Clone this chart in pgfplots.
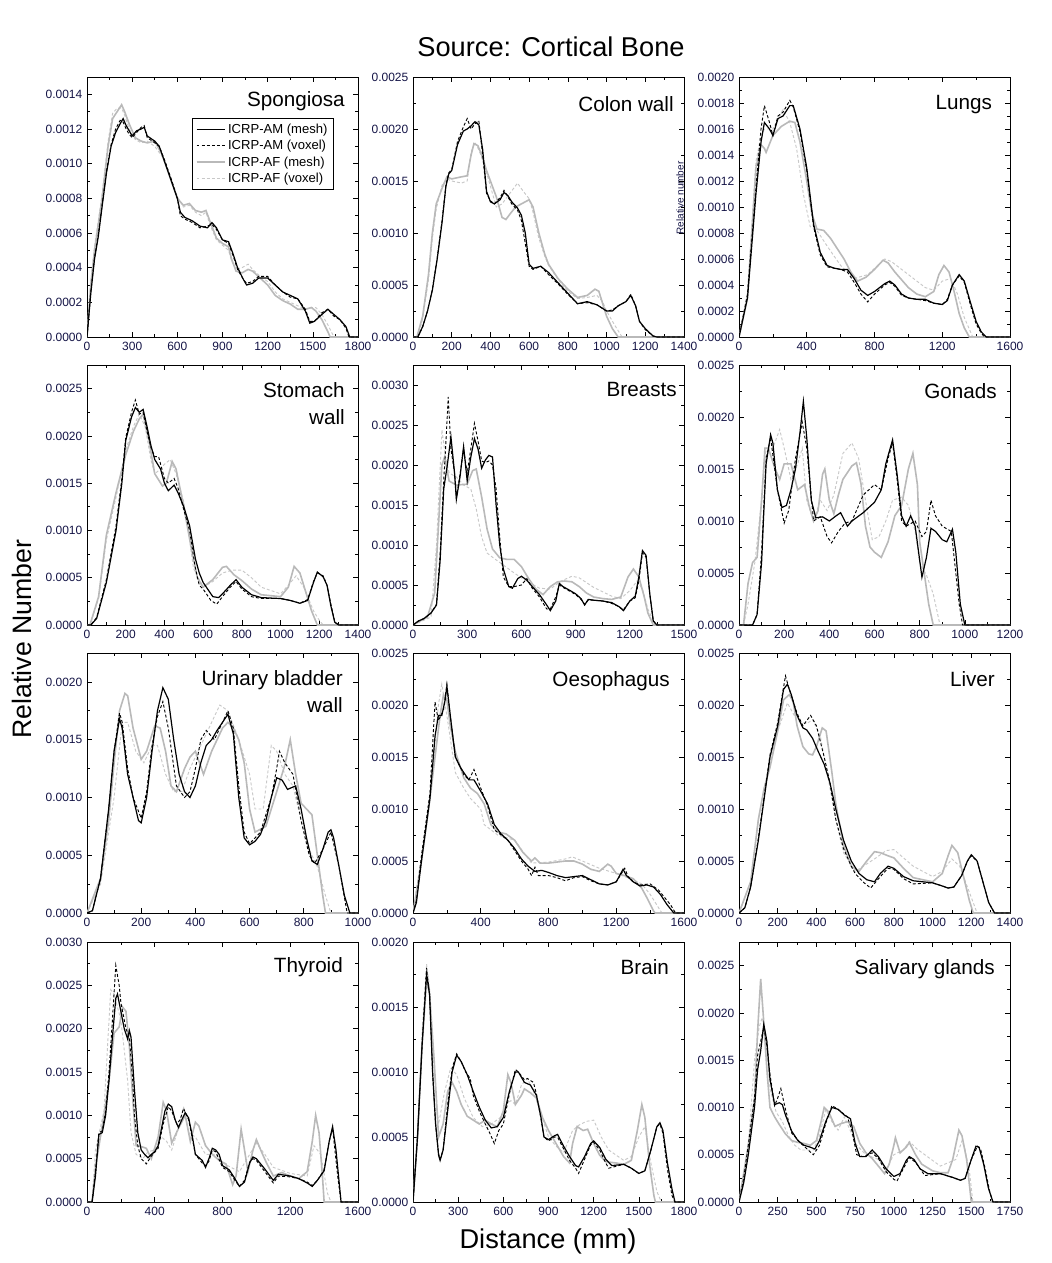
\documentclass[border=0pt]{standalone}
\usepackage{fontspec}
\setmainfont{Liberation Sans}
\usepackage{pgfplots}
\pgfplotsset{compat=1.18}
\definecolor{afmc}{RGB}{185,185,185}
\definecolor{afvc}{RGB}{200,200,200}
\definecolor{tickc}{RGB}{20,20,70}
\tikzset{
  amm/.style={black, line width=0.9pt},
  amv/.style={black, line width=0.7pt, dash pattern=on 2.2pt off 1.6pt},
  afm/.style={afmc, line width=1.2pt},
  afv/.style={afvc, line width=0.7pt, dash pattern=on 2.2pt off 1.6pt},
  ttl/.style={anchor=north east, align=right, inner sep=0pt, font=\fontsize{15.5}{20.25}\selectfont},
}
\pgfplotsset{
  pan/.style={
    scale only axis, width=203.25pt, height=195pt,
    xmin=0, ymin=0, minor tick num=1, tick align=inside,
    major tick length=3.8pt, minor tick length=2.2pt,
    axis line style={line width=0.6pt},
    every tick/.style={black, line width=0.5pt},
    ticklabel style={font=\fontsize{9}{10}\selectfont, text=tickc},
    scaled ticks=false,
    xticklabel style={/pgf/number format/1000 sep={}},
    /pgf/number format/assume math mode=true,
    yticklabel={\pgfmathparse{\tick/10000}\pgfmathprintnumber[fixed,fixed zerofill,precision=4,assume math mode=true]{\pgfmathresult}},
    clip=true,
  },
}
\begin{document}
\begin{tikzpicture}
\path[use as bounding box] (0pt,0pt) rectangle (788.25pt,-947.25pt);
\node[font=\fontsize{20.4}{24}\selectfont] at (413.25pt,-35.25pt) {Source: Cortical Bone};
\node[font=\fontsize{20}{24}\selectfont, rotate=90] at (16.5pt,-479.25pt) {Relative Number};
\node[font=\fontsize{20.4}{24}\selectfont] at (411pt,-930.75pt) {Distance (mm)};

% ---------------- Panel 1: Spongiosa
\begin{axis}[pan, at={(65.25pt,-252.75pt)}, anchor=south west,
  xmax=1800, xtick={0,300,...,1800}, ymax=15, ytick={0,2,...,14},
  reverse legend, legend cell align=left,
  legend style={at={(0.911,0.842)}, anchor=north east, draw=black, line width=0.5pt,
    font=\fontsize{9.8}{11}\selectfont, inner xsep=2.5pt, inner ysep=2pt, row sep=-0.3pt},
  legend image code/.code={\draw[#1] (0cm,0cm) -- (0.74cm,0cm);}]
\addplot[afv] coordinates {(0,0)(25,3.2)(50,5.2)(100,8.2)(140,11.3)(170,12.9)(200,13.2)(230,13.2)(250,12.8)(280,12.0)(320,11.4)(360,11.2)(400,11.3)(450,11.0)(500,10.4)(560,9.1)(600,8.1)(640,7.5)(680,7.6)(720,7.2)(760,7.0)(790,7.2)(820,6.4)(860,5.6)(900,5.3)(940,5.0)(960,4.4)(990,3.9)(1030,4.0)(1070,4.2)(1100,3.9)(1150,3.5)(1200,3.2)(1250,2.6)(1300,2.2)(1350,2.0)(1400,1.8)(1450,1.6)(1490,1.7)(1520,1.7)(1560,1.3)(1600,0.7)(1640,0)(1800,0)};
\addlegendentry{ICRP-AF (voxel)}
\addplot[afm] coordinates {(0,0)(25,3)(50,5)(100,8)(140,11)(170,12.6)(200,13.0)(230,13.4)(250,13.0)(280,12.3)(320,11.5)(360,11.3)(400,11.2)(450,11.3)(500,10.5)(560,9.0)(600,8.0)(640,7.6)(680,7.7)(720,7.3)(760,7.2)(790,7.3)(820,6.6)(860,5.7)(900,5.4)(940,5.2)(960,4.5)(990,3.8)(1030,3.7)(1070,3.9)(1100,3.8)(1150,3.4)(1200,3.0)(1250,2.4)(1300,2.1)(1350,1.9)(1400,1.6)(1450,1.6)(1490,1.7)(1520,1.5)(1560,1.0)(1600,0.3)(1615,0)(1800,0)};
\addlegendentry{ICRP-AF (mesh)}
\addplot[amv] coordinates {(0,0)(25,2.6)(50,4.6)(75,5.9)(100,7.6)(130,9.6)(160,11.1)(190,12)(220,12.5)(240,12.4)(260,12.0)(280,11.7)(300,11.5)(330,11.8)(360,12.1)(380,12.2)(400,11.5)(450,11.2)(480,11.0)(520,10.1)(560,9.1)(600,8.0)(620,7.0)(650,6.8)(700,6.6)(750,6.3)(800,6.4)(830,6.5)(860,6.2)(900,5.6)(940,5.4)(970,4.7)(1000,3.9)(1040,3.3)(1060,3.1)(1100,3.2)(1140,3.5)(1200,3.5)(1250,3.0)(1300,2.6)(1350,2.3)(1400,2.2)(1450,1.6)(1480,0.9)(1510,0.9)(1560,1.4)(1600,1.6)(1640,1.2)(1680,1.0)(1720,0.5)(1740,0)(1800,0)};
\addlegendentry{ICRP-AM (voxel)}
\addplot[amm] coordinates {(0,0)(25,2.5)(50,4.5)(75,5.8)(100,7.5)(130,9.5)(160,11)(190,11.8)(220,12.3)(240,12.6)(260,12.2)(280,11.9)(300,11.6)(330,11.9)(360,12)(380,12.1)(400,11.6)(450,11.3)(480,11.0)(520,10.0)(560,9.0)(600,8.0)(620,7.2)(650,6.9)(700,6.7)(750,6.4)(800,6.3)(830,6.6)(860,6.3)(900,5.6)(940,5.5)(970,4.8)(1000,4.0)(1040,3.3)(1060,3.0)(1100,3.1)(1140,3.4)(1200,3.4)(1250,3.0)(1300,2.6)(1350,2.4)(1400,2.2)(1450,1.5)(1480,0.8)(1510,0.9)(1560,1.3)(1600,1.6)(1640,1.3)(1680,1.0)(1720,0.6)(1745,0)(1800,0)};
\addlegendentry{ICRP-AM (mesh)}
\node[ttl] at (rel axis cs:0.952,0.946) {Spongiosa};
\end{axis}

% ---------------- Panel 2: Colon wall
\begin{axis}[pan, at={(309.75pt,-252.75pt)}, anchor=south west,
  xmax=1400, xtick={0,200,...,1400}, ymax=25, ytick={0,5,...,25}]
\addplot[afv] coordinates {(0,0)(25,0)(50,1.8)(80,5.5)(100,9.5)(120,12.3)(150,14.6)(175,15.2)(200,15.0)(250,14.8)(280,15.0)(300,17.8)(320,18.7)(340,18.0)(360,17.0)(380,15.8)(400,14.5)(430,12.5)(460,12.8)(500,13.8)(540,14.8)(570,14.0)(600,13.3)(620,12.0)(650,9.5)(680,7.8)(700,6.9)(750,5.5)(800,4.4)(850,3.7)(900,3.8)(950,4.0)(980,3.4)(1000,2.5)(1040,1.2)(1080,0)(1400,0)};
\addplot[afm] coordinates {(0,0)(20,0)(50,2)(80,6)(100,10)(120,12.8)(150,14.3)(175,15.4)(200,15.2)(250,15.4)(280,15.5)(300,17.5)(315,18.6)(335,18.4)(355,17.5)(380,16)(400,15)(430,13.5)(460,11.5)(480,11.3)(500,11.8)(530,12.5)(560,12.8)(600,13.2)(620,12.5)(650,10)(680,8)(700,7)(750,5.6)(800,4.6)(850,3.8)(900,4.0)(940,4.6)(960,4.4)(980,3.2)(1000,2)(1030,0.8)(1060,0)(1400,0)};
\addplot[amv] coordinates {(0,0)(25,0)(50,1.0)(75,2.5)(100,4.6)(125,7.6)(150,11.2)(170,14.6)(185,15.8)(200,16.1)(230,18.8)(260,20.2)(280,21.0)(300,20.0)(320,20.5)(340,20.8)(360,17.5)(380,13.8)(400,13.1)(420,12.8)(450,13.4)(470,14.1)(490,13.5)(510,12.8)(540,12.2)(560,11.2)(580,9.0)(600,6.8)(620,6.5)(660,6.8)(700,6.0)(750,5.1)(800,4.1)(850,3.2)(900,3.3)(950,3.1)(1000,2.5)(1030,2.6)(1060,3.0)(1100,3.4)(1125,4.1)(1150,3.0)(1170,1.5)(1200,0.7)(1240,0.1)(1260,0)(1400,0)};
\addplot[amm] coordinates {(0,0)(25,0)(50,1.0)(75,2.5)(100,4.5)(125,7.5)(150,11)(170,14.5)(185,15.7)(200,16)(230,18.5)(260,19.8)(280,20.0)(300,20.3)(320,20.7)(340,20.4)(360,18)(380,14)(400,13)(420,12.8)(450,13.2)(470,13.9)(490,13.6)(510,13)(540,12.4)(560,11.7)(580,10)(600,7)(620,6.6)(660,6.8)(700,6.2)(750,5.2)(800,4.2)(850,3.2)(900,3.4)(950,3.1)(1000,2.5)(1030,2.5)(1060,3.0)(1100,3.4)(1125,4.0)(1150,3.0)(1170,1.5)(1200,0.8)(1240,0.1)(1260,0)(1400,0)};
\node[ttl] at (rel axis cs:0.963,0.925) {Colon wall};
\end{axis}
\node[rotate=90, font=\fontsize{7.5}{8}\selectfont, text=tickc] at (510pt,-148.5pt) {Relative number};

% ---------------- Panel 3: Lungs
\begin{axis}[pan, at={(554.25pt,-252.75pt)}, anchor=south west,
  xmax=1600, xtick={0,400,...,1600}, ymax=20, ytick={0,2,...,20}]
\addplot[afv] coordinates {(0,0)(50,3.2)(100,13.5)(130,15.5)(150,16)(200,16)(260,17.5)(300,16.5)(340,14.5)(380,11)(420,8.5)(460,8.2)(520,7)(600,5.5)(680,4.5)(760,4.8)(860,6.0)(900,5.8)(1000,4.8)(1100,3.8)(1150,3.6)(1200,4.3)(1250,4.5)(1290,3.3)(1330,1.5)(1380,0)(1600,0)};
\addplot[afm] coordinates {(0,0)(50,3)(100,13)(130,14.8)(150,14.5)(160,14.2)(200,15.5)(250,16.2)(300,16.6)(330,16.5)(360,15)(400,12)(430,9.5)(460,8.3)(500,8.2)(540,7.6)(580,6.8)(620,6.0)(660,5.0)(700,4.3)(750,4.6)(800,5.2)(850,5.9)(880,5.7)(920,5.0)(960,4.4)(1000,3.8)(1050,3.3)(1100,3.1)(1150,3.5)(1180,4.8)(1210,5.5)(1240,5.0)(1270,3.5)(1300,1.8)(1330,0.7)(1360,0)(1600,0)};
\addplot[amv] coordinates {(0,0)(50,3.3)(100,11.5)(130,16)(150,17.8)(180,16.5)(200,15.5)(230,17)(260,17.3)(300,18.2)(320,17.7)(360,15.8)(400,12.8)(440,8.5)(480,6.3)(520,5.4)(560,5.3)(600,5.2)(640,5.0)(680,4.2)(720,3.3)(760,2.7)(800,3.3)(860,4.0)(890,4.2)(920,3.9)(960,3.2)(1000,3.0)(1050,2.9)(1100,2.8)(1150,2.6)(1200,2.5)(1230,2.9)(1260,4)(1300,4.7)(1330,4.2)(1370,2.3)(1400,1.0)(1430,0.3)(1450,0)(1600,0)};
\addplot[amm] coordinates {(0,0)(50,3)(100,11)(130,15)(150,16.5)(180,16)(200,15.5)(230,16.8)(260,17.0)(300,17.8)(320,17.8)(360,16)(400,13)(440,8.7)(480,6.5)(520,5.5)(560,5.3)(600,5.2)(640,5.2)(680,4.5)(720,3.6)(760,3.2)(800,3.5)(860,4.1)(890,4.3)(920,4.0)(960,3.3)(1000,3.0)(1050,2.9)(1100,2.9)(1150,2.6)(1200,2.5)(1230,2.8)(1260,4)(1300,4.8)(1330,4.3)(1370,2.5)(1400,1.2)(1430,0.4)(1460,0)(1600,0)};
\node[ttl] at (rel axis cs:0.934,0.93) {Lungs};
\end{axis}

% ---------------- Panel 4: Stomach wall
\begin{axis}[pan, at={(65.25pt,-468.75pt)}, anchor=south west,
  xmax=1400, xtick={0,200,...,1400}, ymax=27.5, ytick={0,5,...,25}]
\addplot[afv] coordinates {(0,0)(15,0)(60,2.8)(100,9)(150,13.5)(200,18.5)(240,21)(270,22.3)(300,21)(330,17.5)(350,16)(380,16.5)(400,17)(430,17.5)(460,16)(500,13)(530,9)(550,6)(600,4)(650,4.6)(700,5.5)(750,5.8)(800,5.8)(850,5.0)(900,4.0)(1000,3.3)(1040,4.2)(1080,5.2)(1120,4.0)(1170,1.5)(1200,0.5)(1220,0)(1400,0)};
\addplot[afm] coordinates {(0,0)(15,0)(60,3)(100,9.5)(150,14)(200,18)(240,20.5)(270,21.8)(290,22.3)(320,19.5)(350,16)(390,14.7)(410,15)(440,17.3)(460,16.5)(500,12.5)(540,8)(570,5)(600,4.0)(650,4.8)(700,6.1)(720,6.2)(760,5.3)(800,4.7)(850,3.8)(900,3.2)(1000,3.0)(1040,4.0)(1070,6.2)(1100,5.5)(1130,3.5)(1160,1.5)(1190,0)(1400,0)};
\addplot[amv] coordinates {(0,0)(20,0)(50,0.8)(100,4.8)(150,10.5)(180,15.5)(200,19.8)(230,22.5)(250,23.8)(270,22.3)(290,22.5)(310,20.5)(330,18.8)(350,17.8)(370,17.8)(400,15.5)(420,15)(450,15.5)(470,14.5)(500,12.2)(530,10)(560,6)(580,4.2)(600,3.8)(640,2.6)(670,2.2)(700,3.0)(740,4.0)(770,4.6)(800,3.8)(850,3.0)(900,2.8)(1000,2.8)(1050,2.6)(1100,2.3)(1140,2.7)(1170,4.6)(1190,5.5)(1220,5.2)(1240,4.2)(1260,2.2)(1280,0.3)(1300,0)(1400,0)};
\addplot[amm] coordinates {(0,0)(20,0)(50,0.7)(100,4.5)(150,10)(180,15)(200,19.5)(230,22)(250,23)(270,22.5)(290,22.8)(310,21)(330,19)(350,17.5)(380,16.5)(400,15)(420,14.2)(450,14.8)(470,14.0)(500,12.5)(530,10.5)(560,7)(580,5.5)(600,4.5)(650,3)(680,2.9)(700,3.3)(740,4.2)(770,4.8)(800,4.0)(850,3.2)(900,2.9)(1000,2.8)(1050,2.6)(1100,2.3)(1140,2.6)(1170,4.5)(1190,5.6)(1220,5.1)(1240,4.2)(1260,2.0)(1280,0.3)(1300,0)(1400,0)};
\node[ttl] at (rel axis cs:0.952,0.935) {Stomach\\wall};
\end{axis}

% ---------------- Panel 5: Breasts
\begin{axis}[pan, at={(309.75pt,-468.75pt)}, anchor=south west,
  xmax=1500, xtick={0,300,...,1500}, ymax=32.5, ytick={0,5,...,30}]
\addplot[afv] coordinates {(0,0)(100,1)(130,10)(160,24.4)(180,21)(200,19)(240,18.5)(280,17.5)(320,17)(350,14.5)(380,11)(410,9)(450,8.3)(500,7.5)(560,6.5)(620,5.6)(700,4.6)(760,4.5)(820,5.5)(880,6.1)(920,5.9)(1000,4.7)(1100,3.6)(1150,3.3)(1200,4.3)(1240,5.5)(1270,4.5)(1300,2)(1340,0)(1500,0)};
\addplot[afm] coordinates {(0,0)(80,1)(120,4)(140,12)(160,20)(175,21)(200,18)(240,17.5)(300,17.6)(330,19.3)(350,19.5)(380,16)(410,12)(440,9.5)(480,8.4)(520,8.2)(560,8.2)(600,7.3)(640,5.8)(680,4.5)(720,3.8)(760,4.8)(800,5.4)(840,5.5)(880,5.4)(920,4.8)(960,4.0)(1000,3.5)(1050,3.3)(1100,3.2)(1150,3.5)(1190,6)(1220,7)(1250,6)(1280,3.5)(1300,1.5)(1330,0)(1500,0)};
\addplot[amv] coordinates {(0,0)(30,0.5)(60,0.8)(100,1.5)(130,2.6)(150,9)(170,18)(185,24)(195,28.5)(210,22)(230,19)(240,16)(260,18.8)(280,22)(300,19)(320,22)(340,25.2)(360,23)(380,20.5)(400,20.3)(420,20.5)(440,20)(460,17)(480,11)(500,6)(530,4.8)(560,4.8)(600,5)(630,5.8)(660,4.6)(700,3.5)(740,2)(760,2)(790,3.5)(810,5)(830,4.7)(870,4.2)(900,3.8)(930,3.2)(950,2.6)(970,3.1)(1000,3.1)(1050,3.0)(1100,2.7)(1140,2.3)(1165,1.9)(1200,3.0)(1230,3.4)(1250,5.5)(1270,9.0)(1290,8.5)(1310,4)(1330,0.5)(1350,0)(1500,0)};
\addplot[amm] coordinates {(0,0)(30,0.5)(60,0.8)(100,1.5)(130,2.5)(150,8)(170,17)(190,20)(210,23.5)(230,19)(240,15.7)(260,18.5)(280,22.3)(300,18)(320,21)(340,23.3)(360,22)(380,19.6)(400,20.6)(420,21.2)(440,21)(460,15)(480,10)(500,7)(530,4.8)(550,4.6)(580,5.8)(600,6.1)(630,5.6)(660,4.8)(700,3.8)(740,2.5)(760,1.8)(790,3)(810,5.2)(830,4.8)(870,4.3)(900,3.9)(930,3.3)(950,2.5)(970,3.2)(1000,3.1)(1050,3.0)(1100,2.8)(1140,2.3)(1165,1.8)(1200,3.0)(1230,3.6)(1250,6)(1270,9.3)(1290,8.7)(1310,4)(1330,0.5)(1350,0)(1500,0)};
\node[ttl] at (rel axis cs:0.974,0.935) {Breasts};
\end{axis}

% ---------------- Panel 6: Gonads
\begin{axis}[pan, at={(554.25pt,-468.75pt)}, anchor=south west,
  xmax=1200, xtick={0,200,...,1200}, ymax=25, ytick={0,5,...,25}]
\addplot[afv] coordinates {(0,0)(20,0)(40,2)(70,6)(100,12)(120,17)(150,17)(180,18.8)(200,17)(230,14)(260,15.5)(280,17)(300,12)(330,10)(360,12)(390,11)(420,12.5)(460,16.5)(500,17.5)(530,16)(560,12)(590,8.2)(620,8.5)(650,10)(680,12)(720,12.3)(750,11.5)(780,9)(800,6)(830,4.8)(860,3)(890,0)(1200,0)};
\addplot[afm] coordinates {(0,0)(20,0)(40,4)(60,6)(80,6.5)(100,12)(115,17)(130,17)(160,15)(180,14)(200,15.5)(230,15.5)(260,13)(290,13.5)(310,11.5)(330,10)(350,11)(370,14.5)(380,15)(400,12)(420,10.7)(440,12.5)(460,14)(500,15.3)(520,15.6)(540,13.6)(560,9.5)(580,7.5)(600,7.0)(630,6.5)(660,8)(690,10.5)(720,11.5)(750,15)(770,16.5)(790,13.5)(800,8)(820,5)(840,2)(860,0)(1200,0)};
\addplot[amv] coordinates {(0,0)(60,0)(80,1)(100,7)(120,16)(140,18)(170,13)(200,9.8)(220,11)(250,16)(280,19.5)(300,17)(330,10)(360,10.4)(390,8.5)(410,7.9)(440,9)(470,9.8)(500,10)(550,12.5)(600,13.5)(630,13)(660,16)(680,17.5)(700,14)(720,10)(740,9.5)(780,10)(810,8.5)(830,9)(850,12)(870,10.5)(900,9.5)(940,9)(960,5)(975,2)(990,0)(1200,0)};
\addplot[amm] coordinates {(0,0)(60,0)(80,1)(100,6)(110,11)(120,15.5)(140,18.3)(150,17.5)(170,13)(190,11.3)(210,11.5)(230,13)(250,15)(270,18.5)(285,21.5)(300,18)(320,12)(340,10.3)(370,10.4)(400,10.0)(430,10.5)(450,10.8)(480,9.5)(500,10)(550,10.8)(600,11.8)(630,13)(650,15.5)(680,17.8)(700,14.5)(720,10.5)(740,9.5)(760,10.5)(780,9.5)(810,4.6)(830,6.5)(850,9.3)(870,9.0)(900,8.2)(920,8.0)(945,9.2)(960,7)(980,2)(1000,0)(1200,0)};
\node[ttl] at (rel axis cs:0.952,0.93) {Gonads};
\end{axis}

% ---------------- Panel 7: Urinary bladder wall
\begin{axis}[pan, at={(65.25pt,-684.75pt)}, anchor=south west,
  xmax=1000, xtick={0,200,...,1000}, ymax=22.5, ytick={0,5,...,20}]
\addplot[afv] coordinates {(0,0)(50,2.5)(100,10)(130,16.5)(150,16.5)(180,14)(210,13)(240,14.5)(260,14.5)(290,12)(320,10.5)(350,10.5)(380,12.5)(410,14)(450,16)(490,18)(520,17.5)(560,15)(600,12)(620,9)(650,9)(680,14.5)(700,14)(730,12)(760,11)(790,8)(820,5.5)(850,4)(880,1.5)(900,0)(1000,0)};
\addplot[afm] coordinates {(0,0)(50,3)(80,8)(100,13)(120,17.5)(140,19)(150,18.8)(170,16)(200,13.3)(220,14)(250,16.2)(270,16)(290,14)(310,11)(330,10.5)(360,12.5)(380,13.5)(400,14)(430,12)(460,14)(500,16)(520,16.5)(540,16)(560,15)(580,13)(600,9)(620,7)(660,7.5)(700,10.5)(730,12.8)(750,15)(770,12)(790,9.5)(830,8.5)(850,5)(870,1.5)(880,0)(1000,0)};
\addplot[amv] coordinates {(0,0)(20,0.2)(50,3)(80,9)(100,14)(120,17.3)(130,16.5)(150,12.5)(170,10)(200,8.2)(220,10.5)(240,14.5)(260,17)(280,18.3)(300,16)(330,11)(360,10)(380,10.5)(400,12.5)(420,15)(440,15.8)(470,15)(500,16.5)(520,17.5)(540,16)(560,11)(580,7)(600,6)(640,7)(680,10)(700,12.5)(710,14)(730,13)(760,12)(790,8)(820,5)(840,4.3)(870,5.5)(900,7)(930,4)(960,0)(1000,0)};
\addplot[amm] coordinates {(0,0)(20,0.2)(50,3)(80,9)(100,14)(120,16.8)(130,16)(150,12)(170,10)(190,8)(200,7.8)(220,10)(240,14)(260,17.5)(280,19.5)(300,18.5)(320,15)(340,12)(360,10.5)(380,10)(400,11)(420,13)(440,14.5)(460,15.0)(480,15.8)(500,16.5)(520,17.2)(540,15.5)(560,10)(580,6.5)(600,5.9)(620,6.2)(640,6.8)(660,8)(680,10)(700,11.7)(720,11.5)(740,10.7)(770,11)(790,9)(810,6.5)(830,4.5)(850,4.2)(870,5.5)(890,7.0)(900,7.2)(910,6.5)(930,4)(950,1.5)(970,0)(1000,0)};
\node[ttl] at (rel axis cs:0.945,0.935) {Urinary bladder\\wall};
\end{axis}

% ---------------- Panel 8: Oesophagus
\begin{axis}[pan, at={(309.75pt,-684.75pt)}, anchor=south west,
  xmax=1600, xtick={0,400,...,1600}, ymax=25, ytick={0,5,...,25}]
\addplot[afv] coordinates {(0,0)(50,5.5)(100,11.5)(150,20)(170,22)(200,19)(250,13.5)(300,12)(340,11)(400,10)(420,8.5)(460,8)(500,7.5)(600,7)(700,4.8)(800,4.9)(900,5.2)(940,5.4)(1000,5.0)(1100,4.3)(1200,3.8)(1300,3.2)(1350,2.8)(1400,1.8)(1450,0.5)(1470,0)(1600,0)};
\addplot[afm] coordinates {(0,0)(50,5)(100,11)(130,15)(160,19)(180,21)(200,20.5)(220,18)(250,15.5)(300,13)(340,12)(380,11.5)(420,10.5)(460,8.5)(500,7.8)(550,7.6)(600,7)(650,5.8)(700,5)(720,5.3)(750,4.8)(800,4.8)(850,4.9)(900,5)(950,5)(1000,4.7)(1050,4.2)(1100,4.0)(1150,4.7)(1170,4.5)(1200,3.8)(1250,3.6)(1300,3.3)(1350,2.4)(1380,1.5)(1420,0.2)(1430,0)(1600,0)};
\addplot[amv] coordinates {(0,0)(20,1.2)(50,5.5)(100,11.5)(130,20.3)(150,18.5)(180,19.5)(200,22.0)(220,19)(250,15)(280,14)(300,13.3)(330,12.8)(360,13.8)(400,12)(440,10.3)(480,8)(520,7.5)(560,7)(600,6)(640,5)(680,4.2)(700,3.6)(720,4.4)(740,3.6)(800,3.6)(850,3.4)(900,3.1)(950,3.4)(1000,3.5)(1050,3.1)(1100,2.8)(1150,2.7)(1200,3.0)(1250,4.3)(1270,3.5)(1300,3.0)(1340,2.7)(1400,2.8)(1450,2.2)(1520,0.8)(1550,0)(1600,0)};
\addplot[amm] coordinates {(0,0)(20,1)(50,5)(100,11)(130,17)(150,19)(170,19)(190,20.5)(200,21.8)(220,19)(250,15)(280,14)(300,13.5)(330,12.8)(360,12.8)(400,11.7)(440,10.5)(480,8.5)(520,7.6)(560,7)(600,6.2)(640,5.2)(680,4.5)(720,4.0)(760,4.1)(800,3.9)(850,3.6)(900,3.4)(950,3.5)(1000,3.6)(1050,3.2)(1100,2.8)(1150,2.7)(1200,3.0)(1240,4.2)(1260,3.6)(1300,3.0)(1340,2.6)(1380,2.7)(1420,2.5)(1460,1.8)(1500,0.8)(1540,0)(1600,0)};
\node[ttl] at (rel axis cs:0.948,0.93) {Oesophagus};
\end{axis}

% ---------------- Panel 9: Liver
\begin{axis}[pan, at={(554.25pt,-684.75pt)}, anchor=south west,
  xmax=1400, xtick={0,200,...,1400}, ymax=25, ytick={0,5,...,25}]
\addplot[afv] coordinates {(0,0)(60,3)(100,9)(130,12)(160,14.5)(200,17.5)(250,20.2)(300,18.5)(350,18.2)(380,18.6)(420,17)(460,13)(500,9)(540,5.8)(600,4)(700,5.2)(760,6.0)(800,6.1)(900,4.5)(1000,3.5)(1050,4)(1100,5.2)(1140,4.5)(1180,2.5)(1230,0)(1400,0)};
\addplot[afm] coordinates {(0,0)(60,3)(100,9)(130,12)(160,14)(200,17.5)(230,20.5)(260,21)(280,20.3)(300,18)(330,16)(360,15.3)(380,15.2)(400,16)(430,17.8)(450,17.5)(480,13.5)(500,10.5)(540,6.5)(580,4.5)(620,4)(660,5)(700,5.9)(730,5.8)(770,5.5)(800,5.3)(850,4.3)(900,3.4)(1000,3.0)(1050,3.8)(1080,5.5)(1100,6.5)(1130,5.8)(1160,3.5)(1190,1.2)(1210,0)(1400,0)};
\addplot[amv] coordinates {(0,0)(30,0.5)(60,2.5)(100,7.2)(130,11.2)(160,15.2)(200,18.3)(240,22.8)(260,21.5)(300,19.2)(330,18)(370,19)(400,18)(440,15)(470,12.5)(500,9)(540,6.2)(580,4.5)(600,3.8)(640,3)(680,2.4)(730,3.5)(770,4.3)(800,4.2)(850,3.3)(900,2.8)(1000,2.9)(1050,2.6)(1080,2.4)(1110,2.5)(1150,3.6)(1180,5.0)(1200,5.5)(1230,5.0)(1260,3)(1290,1)(1320,0)(1400,0)};
\addplot[amm] coordinates {(0,0)(30,0.5)(60,2.5)(100,7)(130,11)(160,15)(200,18)(230,21.5)(250,22.0)(270,21)(300,19)(330,17.8)(350,17.6)(380,16.8)(410,15.5)(440,14.3)(470,12.5)(500,10.0)(540,7)(580,5)(620,3.8)(660,3.2)(700,3.0)(730,3.8)(770,4.5)(800,4.3)(850,3.5)(900,3.1)(1000,2.9)(1050,2.6)(1080,2.4)(1110,2.5)(1150,3.6)(1180,5.0)(1200,5.6)(1230,5.0)(1260,3)(1290,1)(1320,0)(1400,0)};
\node[ttl] at (rel axis cs:0.945,0.928) {Liver};
\end{axis}

% ---------------- Panel 10: Thyroid
\begin{axis}[pan, at={(65.25pt,-901.5pt)}, anchor=south west,
  xmax=1600, xtick={0,400,...,1600}, ymax=30, ytick={0,5,...,30}]
\addplot[afv] coordinates {(0,0)(30,0)(50,6)(100,10.5)(140,24.5)(160,24)(200,21)(240,14)(260,8)(290,5.5)(330,5)(360,5.8)(400,6)(440,7.5)(470,7)(500,6)(540,8.5)(570,11)(600,8)(640,7.5)(700,5.5)(760,5.5)(800,4.5)(900,3.5)(1000,6.8)(1050,5.5)(1100,4)(1200,3.3)(1300,3)(1340,6.5)(1380,5.5)(1420,1)(1440,0)(1600,0)};
\addplot[afm] coordinates {(0,0)(30,0)(50,4)(100,10)(130,14)(160,19.5)(190,20.2)(210,22.5)(230,22)(250,18)(270,12)(290,6.5)(320,6.4)(350,6.2)(380,5)(420,7.5)(450,11.5)(470,10.5)(500,6.8)(540,8.5)(580,10)(610,7)(640,9.2)(660,8.8)(700,6.5)(740,5.5)(780,4.8)(820,4.4)(860,2)(880,3)(910,8.4)(930,6)(950,3.5)(980,6)(1000,7.2)(1030,5.8)(1060,4.5)(1100,3)(1150,3.4)(1200,3)(1250,2.7)(1300,3.5)(1330,7)(1350,10)(1370,8)(1390,3)(1400,0)(1600,0)};
\addplot[amv] coordinates {(0,0)(30,0)(50,3.5)(70,8)(90,8.2)(110,10.5)(130,15)(150,21)(170,27.3)(190,25)(200,23)(230,20)(250,19)(270,14)(280,10)(300,6.5)(320,5)(350,4.4)(380,5.3)(420,6.2)(450,9)(480,11)(500,10.5)(530,9)(550,9.5)(570,10.8)(600,9.5)(620,7.5)(640,5.5)(680,4.5)(700,4.2)(720,4.7)(740,6)(760,5.8)(800,4)(840,3.5)(870,2.6)(900,1.8)(930,2.5)(960,4.6)(980,5)(1000,4.8)(1050,3.5)(1100,2.2)(1130,3)(1200,2.9)(1250,2.7)(1300,2.3)(1330,1.9)(1360,2.5)(1400,3.7)(1430,7)(1450,8.5)(1480,3)(1500,0)(1600,0)};
\addplot[amm] coordinates {(0,0)(30,0)(50,3)(70,7.8)(90,8)(110,10)(130,14)(150,19)(170,23.5)(180,24)(200,22)(220,20)(240,18.8)(250,19.8)(260,19)(280,13)(300,8)(320,6)(340,5.5)(360,5.1)(380,5.5)(400,5.8)(420,6.5)(440,8.5)(460,10.5)(480,11.3)(500,11)(520,9.5)(540,8.6)(560,9.5)(580,10.3)(600,9.7)(620,7.8)(640,5.5)(680,4.8)(700,4.0)(720,5)(740,6.2)(760,6)(780,5.5)(800,4.2)(840,3.7)(870,2.8)(900,1.8)(930,2.3)(960,4.5)(980,5.2)(1000,5)(1050,3.8)(1100,2.5)(1130,3.2)(1200,3.0)(1250,2.7)(1300,2.2)(1330,1.8)(1360,2.5)(1400,3.6)(1430,7)(1450,8.7)(1470,6)(1490,2)(1500,0)(1600,0)};
\node[ttl] at (rel axis cs:0.945,0.942) {Thyroid};
\end{axis}

% ---------------- Panel 11: Brain
\begin{axis}[pan, at={(309.75pt,-901.5pt)}, anchor=south west,
  xmax=1800, xtick={0,300,...,1800}, ymax=20, ytick={0,5,...,20}]
\addplot[afv] coordinates {(0,0)(30,5.5)(60,13)(90,18.3)(110,16.5)(140,10)(170,6)(210,8.5)(250,10.3)(290,9.8)(340,8)(400,6.5)(460,5.8)(520,6)(580,6.5)(620,7.5)(650,7.8)(680,7.5)(720,9)(760,9.5)(800,8.5)(850,6.8)(900,5)(950,4.3)(1000,3.8)(1060,5.5)(1100,5.9)(1150,6.2)(1200,6.3)(1250,5)(1300,4)(1400,3.2)(1450,3.5)(1500,5)(1540,5.8)(1580,3)(1620,0.8)(1650,0)(1800,0)};
\addplot[afm] coordinates {(0,0)(30,5)(60,12)(90,17)(110,16)(140,11)(170,5)(200,6)(230,8.5)(260,9.2)(290,8.5)(320,7.5)(360,6.6)(400,6.3)(440,6.0)(480,6.3)(520,6)(560,5.8)(600,7)(630,9.8)(650,9.2)(680,7.5)(720,8.2)(740,8.7)(780,8.4)(820,8.0)(860,6.5)(900,5.5)(950,4.5)(1000,3.5)(1040,3.0)(1060,4.5)(1090,5.8)(1130,5.5)(1160,5.6)(1200,4.5)(1240,3.6)(1280,3.1)(1350,3)(1400,2.9)(1450,3.2)(1490,5.5)(1520,7.5)(1540,6.5)(1570,3)(1600,0.5)(1610,0)(1800,0)};
\addplot[amv] coordinates {(0,0)(30,5)(60,12)(90,18)(110,16)(130,10)(150,6)(170,3.7)(180,3.3)(200,4)(230,7.5)(260,10.3)(290,11.4)(320,10.8)(350,10)(380,9.5)(400,8.2)(440,7)(480,6)(510,5.3)(540,4.5)(570,5.5)(600,6)(640,8.3)(680,10.2)(700,10)(740,9.4)(760,9.5)(800,9.2)(820,8.3)(850,6.4)(870,5.0)(900,4.7)(940,5.0)(960,5.0)(1000,4.1)(1040,3.2)(1080,2.6)(1100,2.2)(1140,3.3)(1180,4.4)(1200,4.6)(1240,4.0)(1280,3.0)(1300,2.6)(1400,2.9)(1450,2.6)(1500,2.2)(1540,2.4)(1580,4)(1620,5.8)(1640,6.0)(1660,5.3)(1690,2.5)(1720,0.5)(1740,0)(1800,0)};
\addplot[amm] coordinates {(0,0)(30,5)(60,12)(90,17.5)(110,16)(130,10)(150,6)(170,3.6)(180,3.2)(200,4)(230,7)(260,10)(290,11.3)(320,10.8)(360,9.8)(400,8.5)(440,7.3)(480,6.3)(520,5.7)(560,5.8)(600,6.5)(640,8.5)(680,10.0)(700,10)(740,9.2)(780,9.0)(820,8.2)(850,6.5)(870,5.0)(900,4.8)(940,5.1)(960,5.2)(1000,4.3)(1040,3.5)(1080,2.8)(1100,2.7)(1140,3.5)(1180,4.5)(1200,4.7)(1240,4.2)(1280,3.3)(1320,2.8)(1400,2.9)(1450,2.6)(1500,2.2)(1540,2.4)(1580,4)(1620,5.8)(1640,6.1)(1660,5.5)(1690,3)(1720,1)(1740,0)(1800,0)};
\node[ttl] at (rel axis cs:0.945,0.935) {Brain};
\end{axis}

% ---------------- Panel 12: Salivary glands
\begin{axis}[pan, at={(554.25pt,-901.5pt)}, anchor=south west,
  xmax=1750, xtick={0,250,...,1750}, ymax=27.5, ytick={0,5,...,25}]
\addplot[afv] coordinates {(0,0)(60,6)(100,15)(130,18.5)(150,19.5)(170,18)(200,12)(240,9.5)(280,8.5)(320,7.0)(360,6)(400,5.5)(440,5.5)(480,5.5)(520,7)(560,9.8)(600,8.5)(640,7.6)(680,9)(720,7.5)(760,6)(820,5)(900,4.5)(950,3.5)(1000,5)(1060,5.5)(1100,6.4)(1150,5.6)(1200,5)(1300,3.8)(1400,4.5)(1440,6.5)(1460,5.5)(1490,3)(1510,0)(1750,0)};
\addplot[afm] coordinates {(0,0)(60,6)(100,11)(120,18)(140,23.6)(160,19)(180,14)(200,10)(230,9)(260,8.2)(300,7.2)(340,6.5)(380,6.3)(420,6.2)(460,6.0)(500,6.5)(530,8.5)(550,10)(580,9.5)(620,8)(660,8.3)(700,8.5)(740,8.0)(780,6.2)(820,5.2)(860,4.6)(900,3.8)(940,3.0)(970,4)(1000,6.0)(1010,6.8)(1040,5.2)(1080,5.8)(1100,6.3)(1140,5.0)(1180,4.0)(1250,3.3)(1300,3.1)(1350,3.1)(1380,4.5)(1420,7.6)(1440,7.0)(1470,4.5)(1490,1.5)(1500,0)(1750,0)};
\addplot[amv] coordinates {(0,0)(30,2.5)(60,6)(100,11)(120,15.5)(140,17)(160,18.5)(180,16.5)(200,13.5)(230,10.2)(250,11)(270,12)(300,9.8)(340,7.3)(400,6.2)(440,5.6)(480,5)(520,6)(560,8.3)(600,10.2)(640,9.8)(700,9)(730,7.5)(760,5)(800,4.8)(860,5.2)(900,4.6)(950,3.2)(1000,2.4)(1020,2.2)(1060,3.5)(1100,4.7)(1140,4.2)(1200,2.8)(1300,3.0)(1380,2.6)(1430,2.3)(1460,2.5)(1500,4.5)(1540,5.9)(1560,5.6)(1590,3.5)(1620,1)(1640,0)(1750,0)};
\addplot[amm] coordinates {(0,0)(30,2)(60,5)(100,10)(120,14)(140,16)(160,18.8)(180,17)(200,13)(230,10.3)(260,10.5)(280,10.3)(300,9.2)(340,7.5)(380,6.5)(420,6.0)(460,5.8)(490,5.6)(520,6.5)(560,8.5)(600,10.0)(640,9.8)(680,9.2)(720,8.8)(750,6.2)(780,4.8)(820,4.8)(860,5.5)(900,4.8)(950,3.5)(1000,2.7)(1040,3.0)(1080,4.4)(1100,4.8)(1130,4.5)(1170,3.5)(1220,3.0)(1300,3.0)(1380,2.6)(1430,2.3)(1460,2.5)(1500,4.5)(1530,5.9)(1550,5.8)(1580,4)(1610,1.5)(1640,0)(1750,0)};
\node[ttl] at (rel axis cs:0.945,0.935) {Salivary glands};
\end{axis}
\end{tikzpicture}
\end{document}
